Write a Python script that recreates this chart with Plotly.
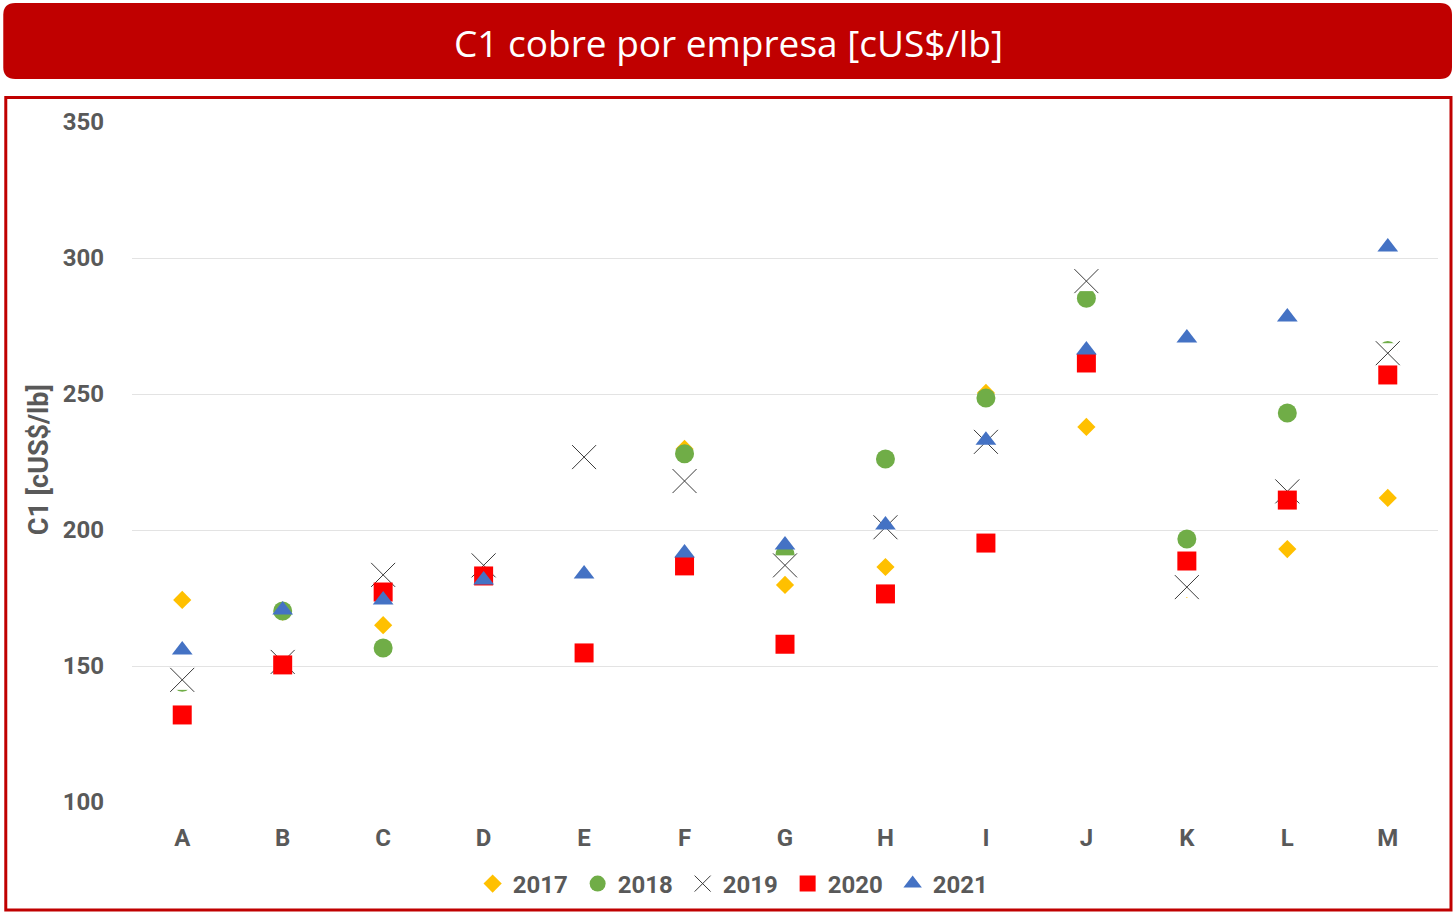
import plotly.graph_objects as go

categories = ["A", "B", "C", "D", "E", "F", "G", "H", "I", "J", "K", "L", "M"]
years = ["2017", "2018", "2019", "2020", "2021"]
v2017 = [174.3, 170.0, 165.0, 184.0, None, 229.8, 179.8, 186.4, 250.4, 237.9, 178.3, 193.0, 211.8]
v2018 = [144.0, 170.2, 156.6, 184.0, None, 228.0, 191.0, 226.1, 248.5, 285.2, 196.7, 243.0, 266.0]
v2019 = [144.9, 151.5, 183.5, 187.0, 226.8, 218.0, 187.0, 201.0, 232.4, 291.5, 179.0, 214.2, 265.0]
v2020 = [132.0, 150.4, 177.2, 183.1, 154.8, 186.8, 158.0, 176.5, 195.2, 261.4, 188.6, 211.0, 257.0]
v2021 = [155.9, 170.6, 174.3, 181.6, 183.8, 191.5, 194.5, 201.8, 233.0, 266.2, 270.6, 278.3, 304.0]
y_ticks = [100, 150, 200, 250, 300, 350]

W, H = 1455, 913
L, R, T, B = 131.75, 1438, 122, 802

def px(x):
    return (x - L) / (R - L)

def py(y):
    return (B - y) / (B - T)

styles = [
    dict(symbol="diamond", size=14, color="#FFC000"),
    dict(symbol="circle", size=19, color="#70AD47"),
    dict(symbol="x-thin", size=24, color="#000000", line=dict(color="#3a3a3a", width=1)),
    dict(symbol="square", size=19, color="#FF0000"),
    dict(symbol="triangle-up", size=18, color="#4472C4"),
]
series = [v2017, v2018, v2019, v2020, v2021]

fig = go.Figure()
for name, vals, st in zip(years, series, styles):
    if name == "2019":
        # white backing box of the X marker (as in the original chart)
        fig.add_trace(go.Scatter(x=categories, y=vals, mode="markers", showlegend=False,
                                 hoverinfo="skip",
                                 marker=dict(symbol="square", size=20, color="white")))
    fig.add_trace(go.Scatter(x=categories, y=vals, mode="markers", name=name, marker=st))

fig.update_layout(
    width=W, height=H,
    margin=dict(l=L, r=W - R, t=T, b=H - B, pad=0, autoexpand=False),
    paper_bgcolor="white", plot_bgcolor="white",
    showlegend=True,
    legend=dict(orientation="h", x=px(735), xanchor="center", y=py(884), yanchor="middle",
                font=dict(family="Roboto", size=24, color="#595959", weight="bold"),
                itemsizing="trace", bgcolor="rgba(0,0,0,0)", entrywidth=60,
                entrywidthmode="pixels", tracegroupgap=0),
    font=dict(family="Roboto", color="#595959"),
)
fig.update_xaxes(type="category", range=[-0.5, 12.5], showgrid=False, showline=False, zeroline=False,
                 tickfont=dict(family="Roboto", size=24, color="#595959", weight="bold"),
                 ticks="", ticklabelstandoff=19, automargin=False)
fig.update_yaxes(range=[100, 350], tickvals=y_ticks, showgrid=True, gridcolor="#E3E3E3", gridwidth=1,
                 zeroline=False, showline=False, ticks="",
                 tickfont=dict(family="Roboto", size=24, color="#595959", weight="bold"),
                 ticklabelstandoff=27, automargin=False)

# y-axis title
fig.add_annotation(xref="paper", yref="paper", x=px(39), y=py(460), text="C1 [cUS$/lb]",
                   textangle=-90, showarrow=False, xanchor="center", yanchor="middle",
                   font=dict(family="Roboto", size=27, color="#595959", weight="bold"))

# banner (rounded rectangle)
x0, x1, y0, y1, r = 3, 1452, 3, 79, 12
def P(x, y):
    return f"{px(x):.6f},{py(y):.6f}"
path = (f"M {P(x0 + r, y0)} L {P(x1 - r, y0)} Q {P(x1, y0)} {P(x1, y0 + r)} "
        f"L {P(x1, y1 - r)} Q {P(x1, y1)} {P(x1 - r, y1)} L {P(x0 + r, y1)} "
        f"Q {P(x0, y1)} {P(x0, y1 - r)} L {P(x0, y0 + r)} Q {P(x0, y0)} {P(x0 + r, y0)} Z")
fig.add_shape(type="path", xref="paper", yref="paper", path=path, fillcolor="#C00000",
              line=dict(width=0), layer="below")
fig.add_shape(type="rect", xref="paper", yref="paper", x0=px(5.5), x1=px(1451), y0=py(97.5), y1=py(910),
              line=dict(color="#C00000", width=3), fillcolor="rgba(0,0,0,0)", layer="below")
fig.add_annotation(xref="paper", yref="paper", x=px(728), y=py(43), text="C1 cobre por empresa [cUS$/lb]",
                   showarrow=False, xanchor="center", yanchor="middle",
                   font=dict(family="Open Sans", size=37, color="white"))

fig.write_html("out.html", config={"displayModeBar": False},
               post_script="document.body.style.margin='0px';document.body.style.overflow='hidden';")
